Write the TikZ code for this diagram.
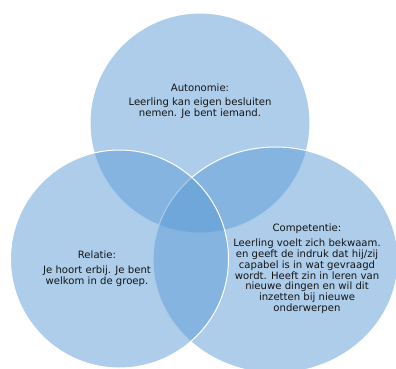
\documentclass[tikz,border=0pt]{standalone}
\usepackage{fontspec}
\setmainfont{DejaVu Sans}
\definecolor{venn}{HTML}{5B9BD5}
\definecolor{txt}{HTML}{141414}
\begin{document}
\begin{tikzpicture}[x=1pt,y=-1pt,
  vset/.style={fill=venn,fill opacity=0.5,draw=white,line width=1pt},
  lbl/.style={align=center,font=\fontsize{10.1}{10.8}\selectfont,text=txt,inner sep=0pt}]
\useasboundingbox (0,0) rectangle (396,368);
\clip (0,0) rectangle (396,368);
\path[vset] (200,123) circle (110);
\path[vset] (275.5,260) ellipse (122.5 and 113);
\path[vset] (119.5,259) circle (109);
\node[lbl] (auto) at (200,101) {Autonomie:\\[4pt]Leerling kan eigen besluiten\\nemen. Je bent iemand.};
\node[lbl] (rel) at (97,269) {Relatie:\\[4pt]Je hoort erbij. Je bent\\welkom in de groep.};
\node[lbl] (comp) at (307,269) {Competentie:\\[4pt]Leerling voelt zich bekwaam.\\en geeft de indruk dat hij/zij\\capabel is in wat gevraagd\\wordt. Heeft zin in leren van\\nieuwe dingen en wil dit\\inzetten bij nieuwe\\onderwerpen};
\end{tikzpicture}
\end{document}
